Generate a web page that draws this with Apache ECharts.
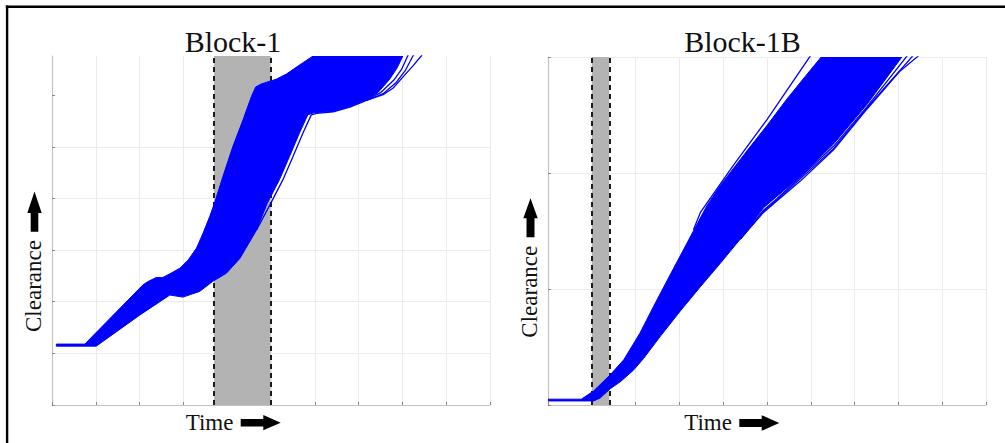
<!DOCTYPE html>
<html>
<head>
<meta charset="utf-8">
<script src="https://cdn.jsdelivr.net/npm/echarts@6/dist/echarts.min.js"></script>
<style>html,body{margin:0;padding:0;background:#fff}#c{width:1005px;height:443px}</style>
</head>
<body>
<div id="c"></div>
<script>
// ---------- data ----------
const panelTitles = ['Block-1', 'Block-1B'];
const xLabel = 'Time';
const yLabel = 'Clearance';
const xTicks = [0, 1, 2, 3, 4, 5, 6, 7, 8, 9, 10];
const leftYTicks = [0, 1, 2, 3, 4, 5, 6];
const rightYTicks = [0, 1, 2, 3];
const leftShade = [3.7, 4.99];
const rightShade = [1.0, 1.4];

// Block-1 envelope of the bundle of runs
const leftUpper = [[0.10,1.18],[0.75,1.18],[2.08,2.33],[2.19,2.39],[2.38,2.47],[2.53,2.47],[2.69,2.54],[2.92,2.65],[3.11,2.81],[3.30,3.04],[3.45,3.33],[3.60,3.65],[3.71,3.91],[3.90,4.42],[4.13,5.01],[4.36,5.52],[4.55,5.97],[4.65,6.16],[4.78,6.22],[5.12,6.31],[5.35,6.41],[5.66,6.59],[5.96,6.76],[6.30,7.10],[8.10,7.10]];
const leftLower = [[0.10,1.14],[1.01,1.14],[2.00,1.74],[2.69,2.13],[2.99,2.09],[3.37,2.20],[3.68,2.40],[3.98,2.55],[4.29,2.84],[4.67,3.39],[4.91,3.90],[5.19,4.36],[5.42,4.81],[5.65,5.27],[5.84,5.62],[5.98,5.66],[6.42,5.69],[6.80,5.78],[7.18,5.91],[7.45,6.06],[7.70,6.30],[7.88,6.53],[8.01,6.76],[8.08,6.90]];
// Block-1 individual outlying runs
const leftRunA = [[4.67,3.39],[4.99,3.90],[5.27,4.36],[5.50,4.81],[5.73,5.27],[5.92,5.62],[6.04,5.65],[6.42,5.68],[6.80,5.77],[7.18,5.90],[7.56,6.01],[7.79,6.14],[8.01,6.35],[8.24,6.57],[8.43,6.76],[8.50,6.85]];
const leftRunB = [[7.18,5.91],[7.50,6.05],[7.80,6.29],[7.98,6.50],[8.12,6.76],[8.16,6.85]];
const leftRunC = [[7.18,5.90],[7.56,6.03],[7.85,6.24],[8.06,6.47],[8.24,6.76],[8.30,6.85]];

// Block-1B envelope
const rightUpper = [[0.00,0.05],[0.76,0.05],[1.04,0.12],[1.42,0.26],[1.73,0.39],[2.10,0.62],[2.41,0.85],[2.87,1.18],[3.32,1.50],[3.63,1.72],[3.93,1.89],[4.54,2.19],[5.00,2.41],[5.46,2.64],[5.91,2.85],[6.26,3.01],[6.40,3.10],[8.10,3.10]];
const rightLower = [[0.00,0.035],[1.04,0.035],[1.19,0.06],[1.42,0.14],[1.65,0.20],[1.95,0.30],[2.18,0.40],[2.56,0.59],[3.02,0.81],[3.48,1.02],[3.93,1.22],[4.39,1.43],[4.92,1.70],[5.23,1.80],[5.76,1.97],[6.52,2.25],[7.28,2.59],[8.08,3.00],[8.15,3.10]];
// Block-1B individual outlying runs
const rightRunUpper = [[3.32,1.51],[3.48,1.66],[4.24,2.07],[5.00,2.46],[5.99,3.01],[6.05,3.10]];
const rightRunOuter = [[4.39,1.43],[4.92,1.66],[5.23,1.76],[5.76,1.93],[6.52,2.20],[7.28,2.55],[8.04,2.88],[8.46,3.01],[8.55,3.10]];
const rightRun1 = [[4.39,1.43],[4.92,1.68],[5.23,1.78],[6.52,2.23],[7.28,2.57],[8.20,3.01],[8.26,3.10]];
const rightRun2 = [[4.39,1.43],[4.92,1.67],[5.23,1.77],[6.52,2.21],[7.28,2.56],[8.33,3.01],[8.40,3.10]];

// ---------- styling ----------
const BLUE = '#0000ff';
const FONT = '"Liberation Serif","DejaVu Serif",serif';
const gridColor = '#ebebeb';
const axisColor = '#c2c2c2';

function xAxisOpt(i) {
  return {
    gridIndex: i, type: 'value', min: xTicks[0], max: xTicks[xTicks.length - 1], interval: 1,
    axisLine: { show: true, onZero: false, lineStyle: { color: axisColor, width: 1.2 } },
    axisTick: { show: true, inside: true, length: 3, lineStyle: { color: '#888' } },
    axisLabel: { show: false },
    splitLine: { show: true, lineStyle: { color: gridColor, width: 1 } }
  };
}
function yAxisOpt(i, ticks, max, showMax) {
  return {
    gridIndex: i, type: 'value', min: 0, max: max, interval: 1,
    axisLine: { show: true, onZero: false, lineStyle: { color: axisColor, width: 1.2 } },
    axisTick: { show: true, inside: true, length: 3, lineStyle: { color: '#888' }, customValues: showMax ? undefined : ticks },
    axisLabel: { show: false },
    splitLine: { show: true, showMaxLine: showMax, lineStyle: { color: gridColor, width: 1 } }
  };
}

function bandSeries(i, upper, lower) {
  return {
    type: 'custom', xAxisIndex: i, yAxisIndex: i, z: 10, silent: true, clip: true,
    data: [[upper[0][0], upper[0][1]]],
    renderItem: function (params, api) {
      const pts = upper.map(p => api.coord(p)).concat(lower.slice().reverse().map(p => api.coord(p)));
      const cs = params.coordSys;
      return {
        type: 'polygon',
        shape: { points: pts },
        style: { fill: BLUE, stroke: BLUE, lineWidth: 1 },
        clipPath: { type: 'rect', shape: { x: cs.x, y: cs.y, width: cs.width, height: cs.height } }
      };
    }
  };
}
function runSeries(i, data) {
  return {
    type: 'line', xAxisIndex: i, yAxisIndex: i, z: 10, silent: true, clip: true,
    data: data, showSymbol: false, symbol: 'none', animation: false,
    lineStyle: { color: BLUE, width: 1.3 }
  };
}
function shadeSeries(i, range) {
  return {
    type: 'line', xAxisIndex: i, yAxisIndex: i, z: 1, silent: true, clip: true,
    data: [[-5, -5]], showSymbol: false, symbol: 'none', lineStyle: { width: 0 },
    markArea: {
      silent: true, z: 1,
      itemStyle: { color: '#b3b3b3', borderWidth: 0 },
      data: [[{ xAxis: range[0] }, { xAxis: range[1] }]]
    },
    markLine: {
      silent: true, z: 2, symbol: ['none', 'none'], label: { show: false },
      lineStyle: { color: '#1a1a1a', width: 2, type: [5, 4] },
      data: [{ xAxis: range[0] }, { xAxis: range[1] }]
    }
  };
}

function upArrow(cx, tip, headBase, bottom, headHalf, shaftHalf) {
  return { type: 'polygon', silent: true, shape: { points: [
    [cx, tip], [cx + headHalf, headBase], [cx + shaftHalf, headBase], [cx + shaftHalf, bottom],
    [cx - shaftHalf, bottom], [cx - shaftHalf, headBase], [cx - headHalf, headBase]] },
    style: { fill: '#000' } };
}
function rightArrow(cy, left, headBase, tip, headHalf, shaftHalf) {
  return { type: 'polygon', silent: true, shape: { points: [
    [left, cy - shaftHalf], [headBase, cy - shaftHalf], [headBase, cy - headHalf], [tip, cy],
    [headBase, cy + headHalf], [headBase, cy + shaftHalf], [left, cy + shaftHalf]] },
    style: { fill: '#000' } };
}
function txt(x, y, s, size, rot) {
  return { type: 'text', x: x, y: y, rotation: rot || 0, silent: true,
    style: { text: s, fontFamily: FONT, fontSize: size, fontWeight: 'normal', fill: '#111', align: 'center', verticalAlign: 'middle' } };
}

const chart = echarts.init(document.getElementById('c'), null, { renderer: 'svg' });
chart.setOption({
  animation: false,
  backgroundColor: '#fff',
  grid: [
    { left: 52, top: 56, width: 438, height: 349 },
    { left: 548, top: 57, width: 438, height: 348 }
  ],
  xAxis: [xAxisOpt(0), xAxisOpt(1)],
  yAxis: [yAxisOpt(0, leftYTicks, 6.76, false), yAxisOpt(1, rightYTicks, rightYTicks[rightYTicks.length - 1], true)],
  series: [
    shadeSeries(0, leftShade),
    bandSeries(0, leftUpper, leftLower),
    runSeries(0, leftRunA), runSeries(0, leftRunB), runSeries(0, leftRunC),
    shadeSeries(1, rightShade),
    bandSeries(1, rightUpper, rightLower),
    runSeries(1, rightRunUpper), runSeries(1, rightRunOuter), runSeries(1, rightRun1), runSeries(1, rightRun2)
  ],
  graphic: [
    { type: 'line', silent: true, shape: { x1: 5.8, y1: 6.8, x2: 1005, y2: 6.8 }, style: { stroke: '#000', lineWidth: 2.4 } },
    { type: 'line', silent: true, shape: { x1: 7.1, y1: 5.6, x2: 7.1, y2: 443 }, style: { stroke: '#000', lineWidth: 2.4 } },
    txt(233, 41.4, panelTitles[0], 30),
    txt(742.5, 41, panelTitles[1], 30),
    txt(209.5, 422, xLabel, 23),
    txt(708, 422.6, xLabel, 23),
    txt(33.8, 286, yLabel, 23, Math.PI / 2),
    txt(529.5, 291.7, yLabel, 23, Math.PI / 2),
    upArrow(34.5, 191.5, 213, 231.7, 7.2, 3.8),
    upArrow(530.5, 198.3, 218.3, 237.3, 7.2, 4),
    rightArrow(422.7, 240.7, 263.3, 280.7, 7.6, 3.8),
    rightArrow(423, 739.3, 761.7, 779.3, 7.8, 4)
  ]
});
</script>
</body>
</html>
